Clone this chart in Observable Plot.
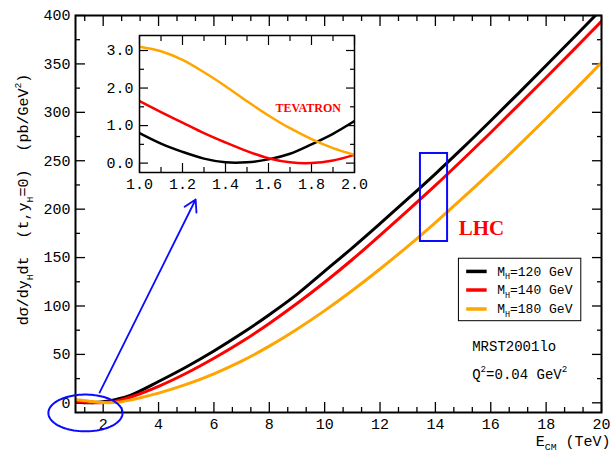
<!DOCTYPE html>
<html>
<head>
<meta charset="utf-8">
<script src="https://cdn.jsdelivr.net/npm/d3@7"></script>
<script src="https://cdn.jsdelivr.net/npm/@observablehq/plot@0.6"></script>
<style>
  html, body { margin: 0; padding: 0; background: #fff; }
  #chart { position: relative; width: 611px; height: 453px; }
  #inset { position: absolute; left: 94px; top: 27px; }
</style>
</head>
<body>
<div id="chart"><div id="main"></div><div id="inset"></div></div>
<script>
// Higgs production cross section dσ/dy_H dt at y_H = 0 versus collider energy
const energies   = [1, 1.2, 1.4, 1.6, 1.8, 2, 2.5, 3, 4, 5, 6, 7, 8, 9, 10, 11, 12, 13, 14, 15, 16, 17, 18, 19, 20];
const sigmaMH120 = [0.8, 0.3, 0.02, 0.1, 0.5, 1.1, 3.8, 8, 22, 37, 53.5, 71.5, 91, 112, 136, 160, 185, 210.5, 236.5, 263.5, 291.3, 319.6, 348.3, 377.3, 406.5];
const sigmaMH140 = [1.65, 1.08, 0.55, 0.13, 0.0, 0.22, 2.0, 6, 17, 30.5, 46, 63, 82, 102.5, 124.5, 148, 173, 198.5, 224.5, 251.5, 279.2, 307.5, 336, 364.8, 394];
const sigmaMH180 = [3.1, 2.75, 2.05, 1.27, 0.64, 0.22, 0.5, 3, 10, 19, 30, 43, 58.5, 76, 95.2, 116, 138.2, 161.6, 186.2, 211.8, 238.3, 265.6, 293.6, 322.2, 351.3];

// Tevatron energy range (zoomed view)
const tevEnergies = [1.0, 1.1, 1.2, 1.3, 1.4, 1.5, 1.6, 1.7, 1.8, 1.9, 2.0];
const tevMH120    = [0.8, 0.52, 0.3, 0.12, 0.02, 0.02, 0.1, 0.25, 0.5, 0.78, 1.12];
const tevMH140    = [1.65, 1.36, 1.08, 0.8, 0.55, 0.32, 0.13, 0.02, 0.0, 0.07, 0.22];
const tevMH180    = [3.1, 2.98, 2.75, 2.42, 2.05, 1.65, 1.27, 0.93, 0.64, 0.4, 0.22];

const masses       = ["120", "140", "180"];
const massLabels   = ["M_{H}=120 GeV", "M_{H}=140 GeV", "M_{H}=180 GeV"];
const seriesColors = ["#000000", "#ff0000", "#ffa500"];

const xTicksMain = [2, 4, 6, 8, 10, 12, 14, 16, 18, 20];
const yTicksMain = [0, 50, 100, 150, 200, 250, 300, 350, 400];
const xTicksInset = [1.0, 1.2, 1.4, 1.6, 1.8, 2.0];
const yTicksInset = [0, 1, 2, 3];

// ---- layout ----
const mono  = "'Courier New', 'Liberation Mono', monospace";
const serif = "'Liberation Serif', 'Times New Roman', serif";
const annotBlue = "#0a0aff";

const xMinorMain = d3.range(2, 31).filter(k => k % 3).map(k => k * 2 / 3);
const yMinorMain = d3.range(25, 400, 50);
const xMinorInset = [1.1, 1.3, 1.5, 1.7, 1.9];
const yMinorInset = [0.5, 1.5, 2.5];

const legendFrame = {x1: 14.85, x2: 19.27, y1: 84.3, y2: 148.8};
const legendLineX = [15.13, 15.87];
const legendTextX = 16.23;
const legendRowY  = [135.7, 116.5, 96.9];
const pdfNotes = [
  {x: 15.33, y: 58.2, text: "MRST2001lo"},
  {x: 15.33, y: 29.2, text: "Q^{2}=0.04 GeV^{2}"}
];
const lhcBox   = {x1: 13.46, x2: 14.44, y1: 166.6, y2: 257.5};
const lhcLabel = {x: 14.84, y: 180, text: "LHC"};
const zoomEllipse = {cx: 1.36, cy: -10.5, rx: 1.34, ry: 19};
const zoomArrow   = {x1: 1.87, y1: 10.6, x2: 5.34, y2: 210};
const tevLabel    = {x: 1.632, y: 1.47, text: "TEVATRON"};

// ---- data tables ----
const seriesRows = (xs, cols) => xs.flatMap((e, i) =>
  masses.map((m, j) => ({E: e, sigma: cols[j][i], mass: m})));
const mainRows  = seriesRows(energies, [sigmaMH120, sigmaMH140, sigmaMH180]);
const insetRows = seriesRows(tevEnergies, [tevMH120, tevMH140, tevMH180]);
const legendRows = masses.map((m, i) => ({mass: m, label: massLabels[i], y: legendRowY[i]}));
const ellipsePts = d3.range(0, 361, 4).map(a => ({
  x: zoomEllipse.cx + zoomEllipse.rx * Math.cos(a * Math.PI / 180),
  y: zoomEllipse.cy + zoomEllipse.ry * Math.sin(a * Math.PI / 180)
}));

// inward ticks on all four sides of a frame
function inwardTicks(xs, ys, size, width) {
  const common = {fill: "none", label: null, strokeWidth: width};
  return [
    Plot.axisX({...common, anchor: "bottom", ticks: xs, tickSize: size, dy: -size}),
    Plot.axisX({...common, anchor: "top", ticks: xs, tickSize: size, dy: size}),
    Plot.axisY({...common, anchor: "left", ticks: ys, tickSize: size, dx: size}),
    Plot.axisY({...common, anchor: "right", ticks: ys, tickSize: size, dx: -size})
  ];
}

// turn _{..} and ^{..} into sub/superscript tspans
function richText(svg) {
  svg.querySelectorAll("text").forEach(t => {
    const s = t.textContent;
    if (!/[_^]\{/.test(s)) return;
    const parts = [];
    const re = /([_^])\{([^}]*)\}/g;
    let m, last = 0;
    while ((m = re.exec(s))) {
      if (m.index > last) parts.push({t: s.slice(last, m.index)});
      parts.push({t: m[2], kind: m[1]});
      last = re.lastIndex;
    }
    if (last < s.length) parts.push({t: s.slice(last)});
    t.textContent = "";
    t.style.whiteSpace = "pre";
    const ns = "http://www.w3.org/2000/svg";
    let shift = 0; // current baseline offset in parent em
    parts.forEach(p => {
      const ts = document.createElementNS(ns, "tspan");
      ts.textContent = p.t;
      if (p.kind) {
        const target = p.kind === "_" ? 0.30 : -0.48;
        ts.setAttribute("font-size", "65%");
        ts.setAttribute("dy", ((target - shift) / 0.65).toFixed(3) + "em");
        shift = target;
      } else if (shift !== 0) {
        ts.setAttribute("dy", (-shift).toFixed(3) + "em");
        shift = 0;
      }
      t.appendChild(ts);
    });
  });
  return svg;
}

const colorScale = {domain: masses, range: seriesColors};

const main = Plot.plot({
  width: 611, height: 453,
  marginLeft: 75, marginRight: 10, marginTop: 15, marginBottom: 41,
  x: {domain: [1, 20], label: null},
  y: {domain: [-10, 400], label: null},
  color: colorScale,
  style: {background: "white", fontFamily: mono, fontSize: "15px", color: "black"},
  marks: [
    ...inwardTicks(xTicksMain, yTicksMain, 10, 1.3),
    ...inwardTicks(xMinorMain, yMinorMain, 5, 1.3),
    Plot.axisX({anchor: "bottom", ticks: xTicksMain, tickSize: 0, tickPadding: 6, label: null}),
    Plot.axisY({anchor: "left", ticks: yTicksMain, tickSize: 0, tickPadding: 5, label: null}),
    Plot.line(mainRows, {x: "E", y: "sigma", z: "mass", stroke: "mass", strokeWidth: 3,
      curve: "catmull-rom", clip: true}),
    Plot.frame({strokeWidth: 2}),
    // legend
    Plot.rect([legendFrame], {x1: "x1", x2: "x2", y1: "y1", y2: "y2", fill: "white", stroke: "black", strokeWidth: 1}),
    Plot.ruleY(legendRows, {y: "y", x1: legendLineX[0], x2: legendLineX[1], stroke: "mass", strokeWidth: 3.5}),
    Plot.text(legendRows, {x: legendTextX, y: "y", text: "label", textAnchor: "start", fontSize: 13}),
    Plot.text(pdfNotes, {x: "x", y: "y", text: "text", textAnchor: "start", fontSize: 14}),
    // LHC marker
    Plot.rect([lhcBox], {x1: "x1", x2: "x2", y1: "y1", y2: "y2", fill: "none", stroke: annotBlue, strokeWidth: 2}),
    Plot.text([lhcLabel], {x: "x", y: "y", text: "text", textAnchor: "start", fill: "#ff0000",
      fontFamily: serif, fontWeight: "bold", fontSize: 21}),
    // Tevatron zoom marker
    Plot.line(ellipsePts, {x: "x", y: "y", stroke: annotBlue, strokeWidth: 2}),
    Plot.arrow([zoomArrow], {x1: "x1", y1: "y1", x2: "x2", y2: "y2", stroke: annotBlue,
      strokeWidth: 1.8, headLength: 11}),
    // axis titles
    Plot.text(["dσ/dy_{H}dt  (t,y_{H}=0)  (pb/GeV^{2})"], {frameAnchor: "left", rotate: -90,
      textAnchor: "middle", dx: -52, dy: -14.5, fontSize: 15}),
    Plot.text(["E_{CM} (TeV)"], {frameAnchor: "bottom-right", textAnchor: "end",
      dx: 9, dy: 33, fontSize: 15})
  ]
});
document.getElementById("main").append(richText(main));

const inset = Plot.plot({
  width: 282, height: 171,
  marginLeft: 45, marginRight: 22, marginTop: 8, marginBottom: 26,
  x: {domain: [1, 2], label: null},
  y: {domain: [-0.25, 3.4], label: null},
  color: colorScale,
  style: {background: "transparent", fontFamily: mono, fontSize: "15px", color: "black"},
  marks: [
    ...inwardTicks(xTicksInset, yTicksInset, 9, 1.2),
    ...inwardTicks(xMinorInset, yMinorInset, 5, 1.2),
    Plot.axisX({anchor: "bottom", ticks: xTicksInset, tickSize: 0, tickPadding: 6,
      tickFormat: d3.format(".1f"), label: null}),
    Plot.axisY({anchor: "left", ticks: yTicksInset, tickSize: 0, tickPadding: 6,
      tickFormat: d3.format(".1f"), label: null}),
    Plot.line(insetRows, {x: "E", y: "sigma", z: "mass", stroke: "mass", strokeWidth: 2.5,
      curve: "catmull-rom", clip: true}),
    Plot.frame({strokeWidth: 1.5}),
    Plot.text([tevLabel], {x: "x", y: "y", text: "text", textAnchor: "start", fill: "#ff0000",
      fontFamily: serif, fontWeight: "bold", fontSize: 12})
  ]
});
document.getElementById("inset").append(inset);
</script>
</body>
</html>
